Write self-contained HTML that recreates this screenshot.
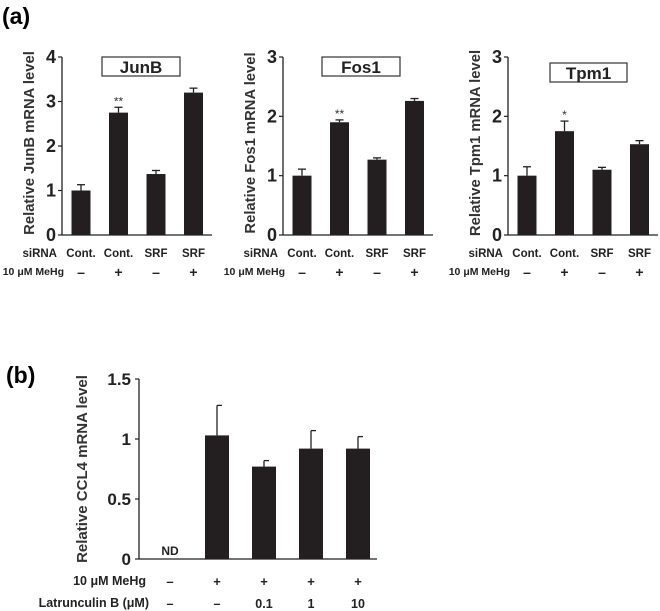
<!DOCTYPE html>
<html><head><meta charset="utf-8"><style>
body{margin:0;background:#fff}
svg{display:block;font-family:"Liberation Sans",Arial,sans-serif}
</style></head><body>
<svg id="fig" width="660" height="611" viewBox="0 0 660 611">
<text x="2" y="24" font-size="23" font-weight="bold">(a)</text>
<text x="6" y="383" font-size="23" font-weight="bold">(b)</text>
</svg>
<script>
const genes = ["JunB","Fos1","Tpm1"];
const junbValues = [1.0, 2.75, 1.37, 3.2];
const junbErrors = [0.13, 0.12, 0.08, 0.1];
const fos1Values = [1.0, 1.9, 1.27, 2.26];
const fos1Errors = [0.11, 0.04, 0.03, 0.04];
const tpm1Values = [1.0, 1.75, 1.1, 1.53];
const tpm1Errors = [0.15, 0.17, 0.04, 0.06];
const sirnaLabels = ["Cont.","Cont.","SRF","SRF"];
const mehgLabels = ["–","+","–","+"];
const significance = [["","**","",""],["","**","",""],["","*","",""]];
const junbTicks = [0,1,2,3,4];
const threeTicks = [0,1,2,3];
const ccl4Values = [0, 1.03, 0.77, 0.92, 0.92];
const ccl4Errors = [0, 0.25, 0.05, 0.15, 0.1];
const ccl4NotDetected = [true,false,false,false,false];
const ccl4Ticks = [0,0.5,1,1.5];
const ccl4TickLabels = ["0","0.5","1","1.5"];
const bMehg = ["–","+","+","+","+"];
const bLatB = ["–","–","0.1","1","10"];

const svg = document.getElementById('fig');
const NS = "http://www.w3.org/2000/svg";
function mk(tag, attrs, name, text){
  const e = document.createElementNS(NS, tag);
  for (const k in attrs) e.setAttribute(k, attrs[k]);
  
  
  if (text !== undefined) e.textContent = text;
  svg.appendChild(e);
  return e;
}

function panelA(ax, gi, values, errors, ticks, boxX, boxY, boxW){
  const gene = genes[gi];
  const y0 = 235, yTop = 57, maxV = ticks[ticks.length-1];
  const yS = v => y0 - (y0 - yTop) * v / maxV;
  const xS = i => ax + 19 + i * 37.5;
  const axEnd = ax + 150;
  mk('line',{x1:ax,y1:yTop,x2:ax,y2:y0,stroke:'#222','stroke-width':1.3}, gene.toLowerCase()+'-y-axis');
  mk('line',{x1:ax,y1:y0,x2:axEnd,y2:y0,stroke:'#222','stroke-width':1.3}, gene.toLowerCase()+'-x-axis');
  ticks.forEach(t=>{
    mk('line',{x1:ax-4,y1:yS(t),x2:ax,y2:yS(t),stroke:'#222','stroke-width':1.2}, gene.toLowerCase()+'-y-tick');
    mk('text',{x:ax-6,y:yS(t)+6,'text-anchor':'end','font-size':18,'font-weight':'bold',fill:'#222'}, gene.toLowerCase()+'-y-tick-label', String(t));
  });
  mk('text',{transform:`translate(${ax-28},${143}) rotate(-90)`,'text-anchor':'middle','font-size':14.8,'font-weight':'bold',fill:'#333'}, gene.toLowerCase()+'-y-axis-title', `Relative ${gene} mRNA level`);
  mk('rect',{x:boxX,y:boxY,width:boxW,height:19,fill:'#fff',stroke:'#333','stroke-width':1.2}, gene.toLowerCase()+'-title-box');
  mk('text',{x:boxX+boxW/2,y:boxY+16,'text-anchor':'middle','font-size':17,'font-weight':'bold',fill:'#222'}, gene.toLowerCase()+'-title', gene);
  values.forEach((v,i)=>{
    const cx = xS(i), top = yS(v), et = yS(v+errors[i]);
    mk('line',{x1:cx,y1:top,x2:cx,y2:et,stroke:'#222','stroke-width':1.3}, gene.toLowerCase()+'-error-bar');
    mk('line',{x1:cx-4,y1:et,x2:cx+4,y2:et,stroke:'#222','stroke-width':1.3}, gene.toLowerCase()+'-error-cap');
    mk('rect',{x:cx-9.5,y:top,width:19,height:y0-top,fill:'#231f20'}, gene.toLowerCase()+'-bar-'+(i+1));
    if (significance[gi][i]) mk('text',{x:cx,y:et-2,'text-anchor':'middle','font-size':12,fill:'#333'}, gene.toLowerCase()+'-significance', significance[gi][i]);
    mk('text',{x:cx,y:257,'text-anchor':'middle','font-size':11.5,'font-weight':'bold',fill:'#222'}, gene.toLowerCase()+'-sirna-label', sirnaLabels[i]);
    mk('text',{x:cx,y:277,'text-anchor':'middle','font-size':14,'font-weight':'bold',fill:'#222'}, gene.toLowerCase()+'-mehg-label', mehgLabels[i]);
  });
  mk('text',{x:ax-5,y:257,'text-anchor':'end','font-size':11.5,'font-weight':'bold',fill:'#222'}, gene.toLowerCase()+'-sirna-row-label', 'siRNA');
  mk('text',{x:ax+2,y:275,'text-anchor':'end','font-size':10.5,'font-weight':'bold',fill:'#222'}, gene.toLowerCase()+'-mehg-row-label', '10 μM MeHg');
}
panelA(62, 0, junbValues, junbErrors, junbTicks, 102, 57, 78);
panelA(283, 1, fos1Values, fos1Errors, threeTicks, 322, 57, 78);
panelA(508, 2, tpm1Values, tpm1Errors, threeTicks, 550, 63, 77);

// panel b
(function(){
  const ax = 139, y0 = 559, yTop = 379, maxV = 1.5;
  const yS = v => y0 - (y0 - yTop) * v / maxV;
  const xS = i => ax + 31 + i * 47;
  mk('line',{x1:ax,y1:yTop,x2:ax,y2:y0,stroke:'#222','stroke-width':1.3}, 'ccl4-y-axis');
  mk('line',{x1:ax,y1:y0,x2:377,y2:y0,stroke:'#222','stroke-width':1.3}, 'ccl4-x-axis');
  ccl4Ticks.forEach((t,k)=>{
    mk('line',{x1:ax-4,y1:yS(t),x2:ax,y2:yS(t),stroke:'#222','stroke-width':1.2}, 'ccl4-y-tick');
    mk('text',{x:ax-8,y:yS(t)+6,'text-anchor':'end','font-size':17,'font-weight':'bold',fill:'#222'}, 'ccl4-y-tick-label', ccl4TickLabels[k]);
  });
  mk('text',{transform:`translate(${ax-52},${(y0+yTop)/2}) rotate(-90)`,'text-anchor':'middle','font-size':15,'font-weight':'bold',fill:'#333'}, 'ccl4-y-axis-title', 'Relative CCL4 mRNA level');
  ccl4Values.forEach((v,i)=>{
    const cx = xS(i);
    if (ccl4NotDetected[i]) {
      mk('text',{x:cx,y:y0-4,'text-anchor':'middle','font-size':12,'font-weight':'bold',fill:'#222'}, 'ccl4-nd-label', 'ND');
    } else {
      const top = yS(v), et = yS(v+ccl4Errors[i]);
      mk('line',{x1:cx,y1:top,x2:cx,y2:et,stroke:'#222','stroke-width':1.3}, 'ccl4-error-bar');
      mk('line',{x1:cx,y1:et,x2:cx+5,y2:et,stroke:'#222','stroke-width':1.3}, 'ccl4-error-cap');
      mk('rect',{x:cx-12,y:top,width:24,height:y0-top,fill:'#231f20'}, 'ccl4-bar-'+(i+1));
    }
    mk('text',{x:cx,y:586,'text-anchor':'middle','font-size':13,'font-weight':'bold',fill:'#222'}, 'ccl4-mehg-label', bMehg[i]);
    mk('text',{x:cx,y:608,'text-anchor':'middle','font-size':12.5,'font-weight':'bold',fill:'#222'}, 'ccl4-latb-label', bLatB[i]);
  });
  mk('text',{x:146,y:585,'text-anchor':'end','font-size':12.5,'font-weight':'bold',fill:'#222'}, 'ccl4-mehg-row-label', '10 μM MeHg');
  mk('text',{x:149,y:607,'text-anchor':'end','font-size':12.5,'font-weight':'bold',fill:'#222'}, 'ccl4-latb-row-label', 'Latrunculin B (μM)');
})();
</script>
</body></html>
